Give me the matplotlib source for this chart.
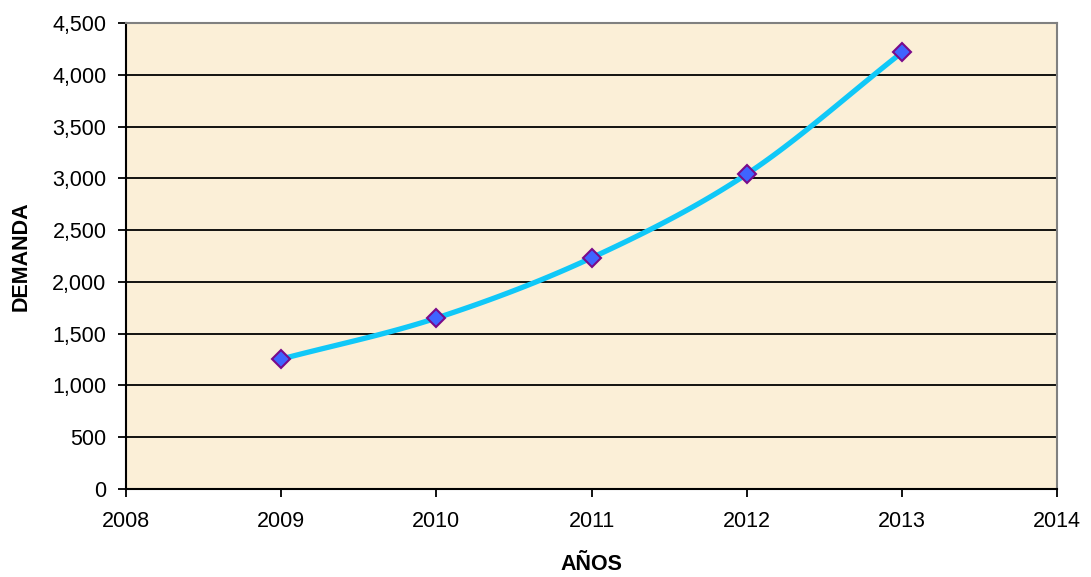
import numpy as np
import matplotlib
matplotlib.use("Agg")
import matplotlib.pyplot as plt
from matplotlib.ticker import FuncFormatter

######## DATA ########
years = [2009, 2010, 2011, 2012, 2013]
demanda = [1255, 1651, 2233, 3042, 4217]
x_ticks = [2008, 2009, 2010, 2011, 2012, 2013, 2014]
y_ticks = [0, 500, 1000, 1500, 2000, 2500, 3000, 3500, 4000, 4500]


def smooth_curve(xs, ys, steps=30):
    # Catmull-Rom style smoothing like the spreadsheet "smoothed line"
    xs = np.asarray(xs, dtype=float)
    ys = np.asarray(ys, dtype=float)
    px = np.concatenate([[2 * xs[0] - xs[1]], xs, [2 * xs[-1] - xs[-2]]])
    py = np.concatenate([[2 * ys[0] - ys[1]], ys, [2 * ys[-1] - ys[-2]]])
    out_x, out_y = [], []
    t = np.linspace(0, 1, steps)
    for i in range(1, len(px) - 2):
        for p, out in ((px, out_x), (py, out_y)):
            p0, p1, p2, p3 = p[i - 1], p[i], p[i + 1], p[i + 2]
            seg = 0.5 * ((2 * p1) + (-p0 + p2) * t
                         + (2 * p0 - 5 * p1 + 4 * p2 - p3) * t ** 2
                         + (-p0 + 3 * p1 - 3 * p2 + p3) * t ** 3)
            out.extend(seg)
    return out_x, out_y


plt.rcParams['font.family'] = ['Liberation Sans', 'DejaVu Sans']

fig = plt.figure(figsize=(10.91, 5.77), dpi=100)
ax = fig.add_axes([0.1155, 0.1525, 0.8535, 0.8075])
ax.set_facecolor('#FBEFD7')

# horizontal grid
for v in y_ticks[1:]:
    ax.axhline(v, color='black', linewidth=1.3, zorder=1)

sx, sy = smooth_curve(years, demanda)
ax.plot(sx, sy, color='#10C8F8', linewidth=3.8, zorder=3, solid_capstyle='round')
ax.plot(years, demanda, linestyle='none', marker='D', markersize=9.5,
        markerfacecolor='#3F64FF', markeredgecolor='#7A0A8A', markeredgewidth=1.5, zorder=4)

ax.set_xlim(2008, 2014)
ax.set_ylim(0, 4500)
ax.set_xticks(x_ticks)
ax.set_yticks(y_ticks)
ax.yaxis.set_major_formatter(FuncFormatter(lambda v, p: f'{int(v):,}'))

ax.tick_params(axis='both', direction='out', length=6, width=1.3, labelsize=15.5, colors='black')
ax.tick_params(axis='x', pad=10)
ax.tick_params(axis='y', pad=8)

ax.spines['left'].set_color('black')
ax.spines['left'].set_linewidth(1.5)
ax.spines['bottom'].set_color('black')
ax.spines['bottom'].set_linewidth(1.5)
ax.spines['top'].set_color('#808080')
ax.spines['top'].set_linewidth(1.5)
ax.spines['right'].set_color('#808080')
ax.spines['right'].set_linewidth(1.5)

ax.set_xlabel('AÑOS', fontsize=15.5, fontweight='bold', labelpad=16)
ax.set_ylabel('DEMANDA', fontsize=15.5, fontweight='bold', labelpad=15)

fig.savefig('out.png', dpi=100)
